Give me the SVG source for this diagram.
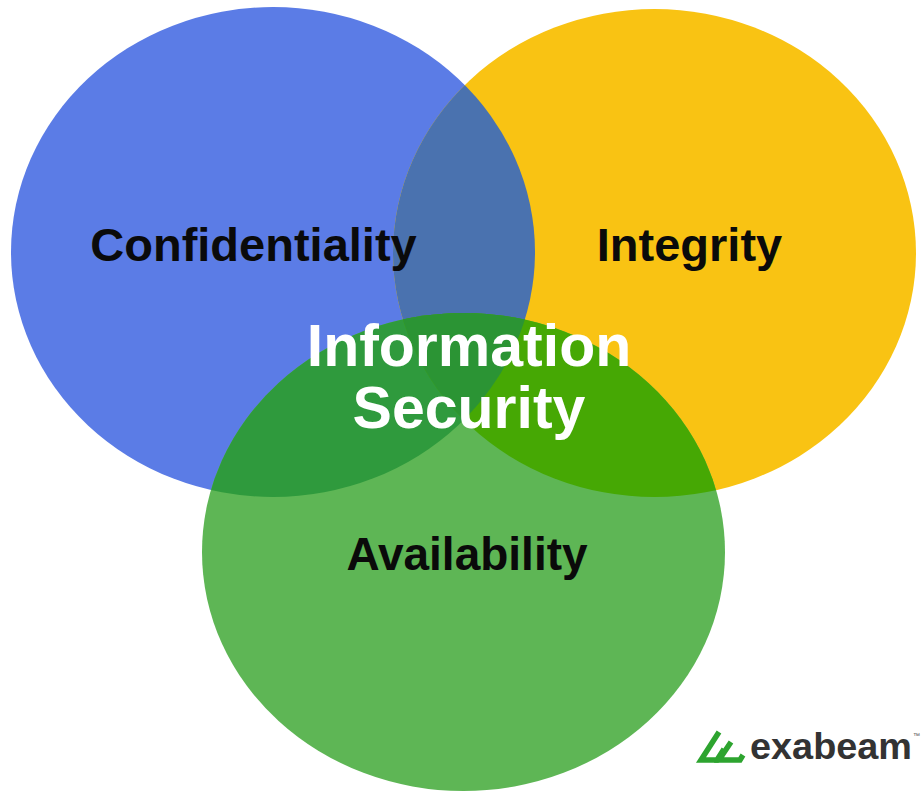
<svg xmlns="http://www.w3.org/2000/svg" width="923" height="792" viewBox="0 0 923 792">
  <style>
    .lbl { font-family: "Liberation Sans", Arial, sans-serif; font-weight: bold; text-anchor: middle; }
    .dark { fill: #0a0a0a; }
    .light { fill: #ffffff; }
  </style>
  <defs>
    <ellipse id="eB" cx="273" cy="252" rx="262" ry="245"/>
    <ellipse id="eY" cx="654.5" cy="253" rx="261.5" ry="244"/>
    <ellipse id="eG" cx="463.5" cy="552" rx="261.5" ry="239"/>
    <clipPath id="cB"><use href="#eB"/></clipPath>
    <clipPath id="cY"><use href="#eY"/></clipPath>
    <clipPath id="cBY"><use href="#eY" clip-path="url(#cB)"/></clipPath>
  </defs>
  <rect width="923" height="792" fill="#ffffff"/>

  <g id="confidentiality">
    <use href="#eB" fill="#5b7ce6"/>
  </g>
  <g id="integrity">
    <use href="#eY" fill="#f9c313"/>
  </g>
  <g id="availability">
    <use href="#eG" fill="#5eb655"/>
  </g>

  <g id="overlaps">
    <use href="#eY" fill="#4a72af" clip-path="url(#cB)"/>
    <use href="#eG" fill="#2f9a3d" clip-path="url(#cB)"/>
    <use href="#eG" fill="#46a804" clip-path="url(#cY)"/>
    <use href="#eG" fill="#2b9434" clip-path="url(#cBY)"/>
  </g>

  <g id="labels">
    <text class="lbl dark" x="253.5" y="261" font-size="47">Confidentiality</text>
    <text class="lbl dark" x="689.5" y="261" font-size="47">Integrity</text>
    <text class="lbl dark" x="467" y="570" font-size="46">Availability</text>
  </g>

  <g id="information-security">
    <text class="lbl light" x="469" y="366" font-size="59">Information</text>
    <text class="lbl light" x="469" y="428" font-size="59">Security</text>
  </g>

  <g id="logo">
    <g fill="none" stroke="#2da42f" stroke-width="5.5" stroke-linejoin="miter">
      <path d="M719,732 L701,760 L717,760 L724,749"/>
      <path d="M731,742 L719,760 L740,760 L743,755"/>
    </g>
    <text x="750" y="759" font-family="Liberation Sans, Arial, sans-serif" font-weight="bold" font-size="37" fill="#333333" textLength="162" lengthAdjust="spacingAndGlyphs">exabeam</text>
    <text x="913" y="738" font-family="Liberation Sans, Arial, sans-serif" font-size="7" fill="#555555">™</text>
  </g>
</svg>
